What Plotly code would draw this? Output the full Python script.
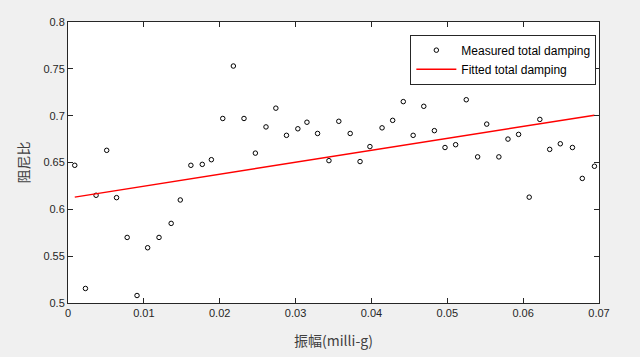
import plotly.graph_objects as go

# Measured total damping (amplitude in milli-g, damping ratio)
amp = [0.00089, 0.0023, 0.0037, 0.0051, 0.0064, 0.0078, 0.0091, 0.0105, 0.0120, 0.0136,
       0.0148, 0.0162, 0.0177, 0.0189, 0.0204, 0.0218, 0.0232, 0.0247, 0.0261, 0.0274,
       0.0288, 0.0303, 0.0315, 0.0329, 0.0344, 0.0357, 0.0372, 0.0385, 0.0398, 0.0414,
       0.0428, 0.0442, 0.0455, 0.0469, 0.0483, 0.0497, 0.0511, 0.0525, 0.0540, 0.0552,
       0.0568, 0.0580, 0.0594, 0.0608, 0.0622, 0.0635, 0.0649, 0.0665, 0.0678, 0.0694]
damp = [0.647, 0.5155, 0.615, 0.663, 0.6125, 0.570, 0.508, 0.559, 0.570, 0.585,
        0.610, 0.647, 0.648, 0.653, 0.697, 0.753, 0.697, 0.660, 0.688, 0.708,
        0.679, 0.686, 0.693, 0.681, 0.652, 0.694, 0.681, 0.651, 0.667, 0.687,
        0.695, 0.715, 0.679, 0.710, 0.684, 0.666, 0.669, 0.717, 0.656, 0.691,
        0.656, 0.675, 0.680, 0.613, 0.696, 0.664, 0.670, 0.666, 0.633, 0.646]

# Linear fit parameters
fit_intercept = 0.6119
fit_slope = 1.277

x_ticks = [0, 0.01, 0.02, 0.03, 0.04, 0.05, 0.06, 0.07]
y_ticks = [0.5, 0.55, 0.6, 0.65, 0.7, 0.75, 0.8]

fit_x = [min(amp), max(amp)]
fit_y = [fit_intercept + fit_slope * v for v in fit_x]

fig = go.Figure()
fig.add_trace(go.Scatter(
    x=amp, y=damp, mode="markers", name="Measured total damping",
    marker=dict(symbol="circle-open", size=4.5, color="black", line=dict(width=1, color="black")),
))
fig.add_trace(go.Scatter(
    x=fit_x, y=fit_y, mode="lines", name="Fitted total damping",
    line=dict(color="red", width=1.5),
))

axis_common = dict(
    showline=True, linecolor="#262626", linewidth=1, mirror="ticks",
    ticks="inside", ticklen=5, tickcolor="#262626", showgrid=False, zeroline=False,
    tickfont=dict(family="Liberation Sans, Arial", size=11, color="#262626"),
)

fig.update_layout(
    width=640, height=357,
    paper_bgcolor="#f0f0f0", plot_bgcolor="white",
    margin=dict(l=68, r=41, t=22, b=54),
    showlegend=True,
    legend=dict(
        x=0.995, y=0.955, xanchor="right", yanchor="top",
        bgcolor="white", bordercolor="#262626", borderwidth=1,
        font=dict(family="Liberation Sans, Arial", size=12, color="black"),
        tracegroupgap=0, itemwidth=40,
    ),
    xaxis=dict(range=[0, 0.07], tickvals=x_ticks, ticktext=[str(v) for v in x_ticks],
               title=dict(text="振幅(milli-g)", standoff=17,
                          font=dict(family="Noto Sans CJK SC", size=14, color="#404040")),
               **axis_common),
    yaxis=dict(range=[0.5, 0.8], tickvals=y_ticks, ticktext=[str(v) for v in y_ticks],
               title=dict(text="阻尼比", standoff=10,
                          font=dict(family="Noto Sans CJK SC", size=14, color="#404040")),
               **axis_common),
)

fig.write_html("out.html", config={"displayModeBar": False},
               post_script="document.body.style.margin='0';")
